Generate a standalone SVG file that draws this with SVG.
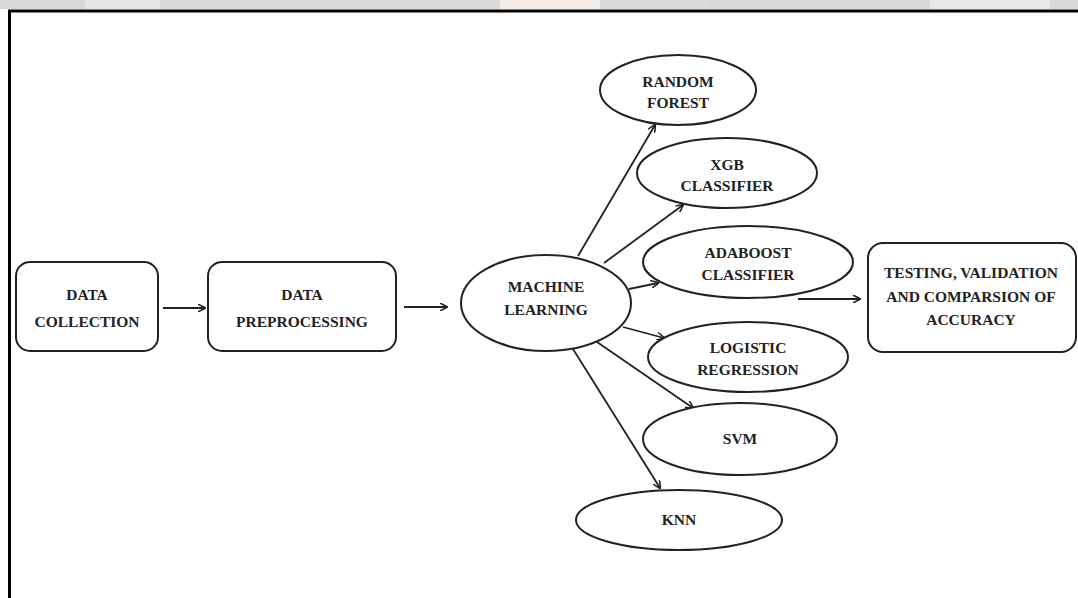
<svg xmlns="http://www.w3.org/2000/svg" width="1078" height="598" viewBox="0 0 1078 598">
<defs>
<marker id="ah" viewBox="0 0 10 10" refX="9" refY="5" markerWidth="8" markerHeight="8" markerUnits="userSpaceOnUse" orient="auto">
<path d="M0,0 L10,5 L0,10" fill="none" stroke="#222" stroke-width="2"/>
</marker>
<style>
.node{fill:#fff;stroke:#222;stroke-width:2}
.lbl{font-family:"Liberation Serif","DejaVu Serif",serif;font-weight:bold;font-size:15.5px;fill:#222;text-anchor:middle}
.con{stroke:#222;stroke-width:1.8;fill:none;marker-end:url(#ah)}
</style>
</defs>
<rect x="0" y="0" width="1078" height="598" fill="#fff"/>
<g id="topband">
<rect x="0" y="0" width="1078" height="9" fill="#d7d7d7"/>
<rect x="85" y="0" width="75" height="9" fill="#e4e4e4"/>
<rect x="240" y="0" width="470" height="9" fill="#dadada"/>
<rect x="500" y="0" width="100" height="9" fill="#f2ebe6"/>
<rect x="930" y="0" width="120" height="9" fill="#e8e8e8"/>
</g>
<g id="frame">
<path d="M9.5,598 V11 H1078" fill="none" stroke="#000" stroke-width="3"/>
</g>
<g id="connectors">
<line class="con" x1="163" y1="308" x2="205" y2="308"/>
<line class="con" x1="404" y1="307" x2="447" y2="307"/>
<line class="con" x1="578" y1="256" x2="655" y2="125"/>
<line class="con" x1="604" y1="263" x2="683" y2="205"/>
<line class="con" x1="629" y1="289" x2="658" y2="283"/>
<line class="con" x1="623" y1="327" x2="664" y2="338"/>
<line class="con" x1="597" y1="342" x2="693" y2="408"/>
<line class="con" x1="573" y1="349" x2="660" y2="488"/>
<line class="con" x1="798" y1="299" x2="860" y2="299"/>
</g>
<g id="data-collection">
<rect class="node" x="16" y="262" width="142" height="89" rx="14"/>
<text class="lbl" x="87" y="300">DATA</text>
<text class="lbl" x="87" y="327">COLLECTION</text>
</g>
<g id="data-preprocessing">
<rect class="node" x="208" y="262" width="188" height="89" rx="14"/>
<text class="lbl" x="302" y="300">DATA</text>
<text class="lbl" x="302" y="327">PREPROCESSING</text>
</g>
<g id="machine-learning">
<ellipse class="node" cx="546" cy="303" rx="85" ry="48"/>
<text class="lbl" x="546" y="292">MACHINE</text>
<text class="lbl" x="546" y="315">LEARNING</text>
</g>
<g id="random-forest">
<ellipse class="node" cx="678" cy="90" rx="78" ry="35"/>
<text class="lbl" x="678" y="87">RANDOM</text>
<text class="lbl" x="678" y="108">FOREST</text>
</g>
<g id="xgb">
<ellipse class="node" cx="727" cy="173" rx="90" ry="35"/>
<text class="lbl" x="727" y="170">XGB</text>
<text class="lbl" x="727" y="191">CLASSIFIER</text>
</g>
<g id="adaboost">
<ellipse class="node" cx="748" cy="262" rx="105" ry="36"/>
<text class="lbl" x="748" y="258">ADABOOST</text>
<text class="lbl" x="748" y="280">CLASSIFIER</text>
</g>
<g id="logistic">
<ellipse class="node" cx="748" cy="357" rx="100" ry="35"/>
<text class="lbl" x="748" y="353">LOGISTIC</text>
<text class="lbl" x="748" y="375">REGRESSION</text>
</g>
<g id="svm">
<ellipse class="node" cx="740" cy="439" rx="97" ry="36"/>
<text class="lbl" x="740" y="444">SVM</text>
</g>
<g id="knn">
<ellipse class="node" cx="679" cy="520" rx="103" ry="30"/>
<text class="lbl" x="679" y="525">KNN</text>
</g>
<g id="testing">
<rect class="node" x="868" y="243" width="208" height="109" rx="15"/>
<text class="lbl" x="971" y="278">TESTING, VALIDATION</text>
<text class="lbl" x="971" y="302">AND COMPARSION OF</text>
<text class="lbl" x="971" y="325">ACCURACY</text>
</g>
</svg>
